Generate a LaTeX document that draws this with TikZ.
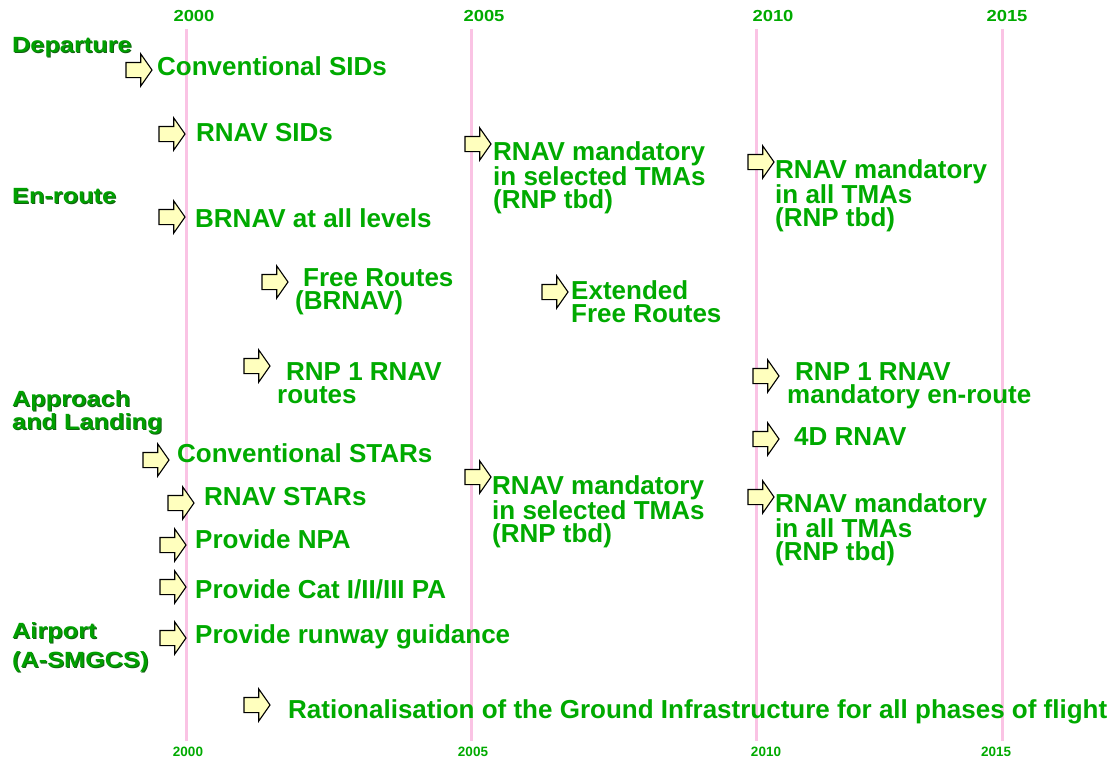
\documentclass[tikz,border=0pt]{standalone}
\usepackage{fontspec}
\setmainfont{Liberation Sans}
\newfontfamily\headfont[FakeStretch=1.15]{Liberation Sans}
\usetikzlibrary{shapes.arrows}
\usepackage{xcolor}
\definecolor{itemgreen}{RGB}{0,170,0}
\definecolor{headgreen}{RGB}{0,160,0}
\definecolor{shadegreen}{RGB}{20,95,20}
\definecolor{yearpink}{RGB}{250,195,228}
\definecolor{arrowfill}{RGB}{255,255,190}
\newcommand{\shtxt}[1]{\leavevmode\rlap{\hspace{1pt}\raisebox{-1pt}{\color{shadegreen}#1}}#1}
\tikzstyle{goarrow} = [single arrow, draw=black, line width=1.1pt, fill=arrowfill, minimum height=26pt, minimum width=31pt, inner xsep=0pt, inner ysep=7pt, single arrow head extend=8.5pt, single arrow tip angle=110, anchor=west, outer sep=0pt]
\tikzstyle{item} = [inner sep=0pt, text=itemgreen, font=\fontsize{26}{23.5}\selectfont\bfseries, anchor=base west]
\tikzstyle{itemblock} = [item, align=left, anchor=north west]
\tikzstyle{phase} = [inner sep=0pt, text=headgreen, font=\headfont\fontsize{22}{23}\selectfont\bfseries, align=left, anchor=north west]
\tikzstyle{yeartop} = [inner sep=0pt, text=itemgreen, font=\headfont\fontsize{16}{16}\selectfont\bfseries, anchor=base]
\tikzstyle{yearbot} = [inner sep=0pt, text=itemgreen, font=\fontsize{13.5}{14}\selectfont\bfseries, anchor=base]
\tikzstyle{yearline} = [draw=yearpink, line width=3pt]

\begin{document}
\begin{tikzpicture}[x=1pt, y=-1pt]
    \useasboundingbox (0,0) rectangle (1115,763);

    % Year grid
    \coordinate (g00t) at (186,29);  \coordinate (g00b) at (186,741);
    \coordinate (g05t) at (471,29);  \coordinate (g05b) at (471,741);
    \coordinate (g10t) at (756,29);  \coordinate (g10b) at (756,741);
    \coordinate (g15t) at (1002,29); \coordinate (g15b) at (1002,741);
    \draw [yearline] (g00t) -- (g00b);
    \draw [yearline] (g05t) -- (g05b);
    \draw [yearline] (g10t) -- (g10b);
    \draw [yearline] (g15t) -- (g15b);

    \node (y00t) [yeartop] at (194,21) {2000};
    \node (y05t) [yeartop] at (484,21) {2005};
    \node (y10t) [yeartop] at (773,21) {2010};
    \node (y15t) [yeartop] at (1007,21) {2015};
    \node (y00b) [yearbot] at (188,756) {2000};
    \node (y05b) [yearbot] at (473,756) {2005};
    \node (y10b) [yearbot] at (766,756) {2010};
    \node (y15b) [yearbot] at (996,756) {2015};

    % Flight phases
    \node (dep) [phase] at (12,37) {\shtxt{Departure}};
    \node (enr) [phase] at (12,188) {\shtxt{En-route}};
    \node (app) [phase] at (12,390) {\shtxt{Approach}\\\shtxt{and Landing}};
    \node (apt) [phase] at (12,622) {\shtxt{Airport}\\[6pt]\shtxt{(A-SMGCS)}};

    % Departure
    \node (a1) [goarrow] at (126,70) {};
    \node (t1) [item] at (157,75) {Conventional SIDs};
    \node (a2) [goarrow] at (159,134) {};
    \node (t2) [item] at (196,141) {RNAV SIDs};
    \node (a3) [goarrow] at (465,144) {};
    \node (t3) [itemblock] at (493,141) {RNAV mandatory\\in selected TMAs\\(RNP tbd)};
    \node (a4) [goarrow] at (748,162) {};
    \node (t4) [itemblock] at (775,159) {RNAV mandatory\\in all TMAs\\(RNP tbd)};

    % En-route
    \node (a5) [goarrow] at (159,217) {};
    \node (t5) [item] at (195,227) {BRNAV at all levels};
    \node (a6) [goarrow] at (262,282) {};
    \node (t6) [itemblock] at (295,268) {\hspace{8pt}Free Routes\\(BRNAV)};
    \node (a7) [goarrow] at (542,292) {};
    \node (t7) [itemblock] at (571,280) {Extended\\Free Routes};
    \node (a8) [goarrow] at (244,366) {};
    \node (t8) [itemblock] at (277,362) {\hspace{9pt}RNP 1 RNAV\\routes};
    \node (a9) [goarrow] at (753,376) {};
    \node (t9) [itemblock] at (787,362) {\hspace{8pt}RNP 1 RNAV\\mandatory en-route};
    \node (a10) [goarrow] at (753,439) {};
    \node (t10) [item] at (794,445) {4D RNAV};

    % Approach and Landing
    \node (a11) [goarrow] at (143,460) {};
    \node (t11) [item] at (177,462) {Conventional STARs};
    \node (a12) [goarrow] at (465,477) {};
    \node (t12) [itemblock] at (492,475) {RNAV mandatory\\in selected TMAs\\(RNP tbd)};
    \node (a13) [goarrow] at (748,497) {};
    \node (t13) [itemblock] at (775,493) {RNAV mandatory\\in all TMAs\\(RNP tbd)};
    \node (a14) [goarrow] at (168,503) {};
    \node (t14) [item] at (204,505) {RNAV STARs};
    \node (a15) [goarrow] at (160,545) {};
    \node (t15) [item] at (195,548) {Provide NPA};
    \node (a16) [goarrow] at (160,587) {};
    \node (t16) [item] at (195,598) {Provide Cat I/II/III PA};

    % Airport
    \node (a17) [goarrow] at (160,638) {};
    \node (t17) [item] at (195,643) {Provide runway guidance};
    \node (a18) [goarrow] at (244,705) {};
    \node (t18) [item] at (288,718) {Rationalisation of the Ground Infrastructure for all phases of flight};
\end{tikzpicture}
\end{document}
